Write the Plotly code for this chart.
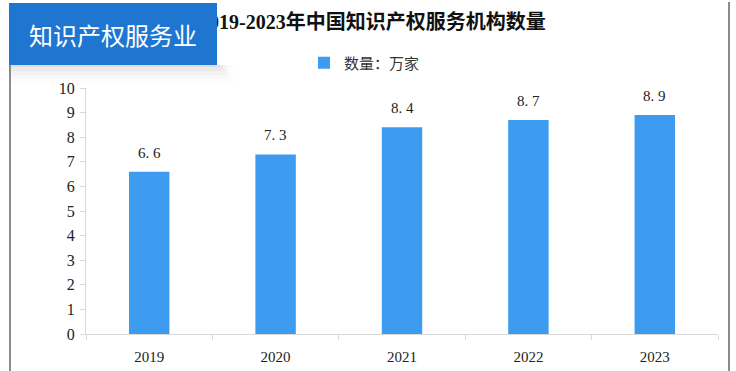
import plotly.graph_objects as go

years = ["2019", "2020", "2021", "2022", "2023"]
values = [6.6, 7.3, 8.4, 8.7, 8.9]
value_labels = ["6. 6", "7. 3", "8. 4", "8. 7", "8. 9"]
y_ticks = list(range(0, 11))
title_text = "2019-2023年中国知识产权服务机构数量"
legend_name = "数量：万家"
badge_text = "知识产权服务业"

BAR = "#3d9cf0"
SERIF = "Liberation Serif, DejaVu Serif, Noto Sans CJK SC, serif"
CJK = "Noto Sans CJK SC, sans-serif"

fig = go.Figure()
fig.add_trace(go.Bar(
    x=years, y=values, name=legend_name,
    marker=dict(color=BAR, line=dict(width=0)),
))

# value labels above bars (category index positions)
for i, (v, lab) in enumerate(zip(values, value_labels)):
    fig.add_annotation(x=i, y=v, xref="x", yref="y", text=lab, showarrow=False,
                       yanchor="bottom", yshift=9,
                       font=dict(family=SERIF, size=15, color="#222"))


def px_x(px):
    return (px - 86) / 632


def px_y(py):
    return (334 - py) / 246


fig.update_layout(
    width=736, height=371,
    margin=dict(l=86, r=18, t=88, b=37, autoexpand=False),
    paper_bgcolor="white", plot_bgcolor="white",
    bargap=0.68,
    showlegend=True,
    legend=dict(orientation="h", x=px_x(304), xanchor="left", y=px_y(63), yanchor="middle",
                font=dict(family=CJK, size=15, color="#333"),
                itemwidth=30, bgcolor="rgba(0,0,0,0)"),
    xaxis=dict(
        type="category", range=[-0.5, len(years) - 0.5], autorange=False,
        automargin=False,
        showline=True, linecolor="#d9d9d9", linewidth=1,
        ticks="outside", ticklen=5, tickcolor="#d9d9d9", tickson="boundaries",
        showgrid=False, tickfont=dict(family=SERIF, size=15, color="#222"),
        ticklabelstandoff=9,
    ),
    yaxis=dict(
        range=[0, 10], autorange=False, automargin=False, tickvals=y_ticks,
        showline=True, linecolor="#d9d9d9",
        linewidth=1, ticks="outside", ticklen=5, tickcolor="#d9d9d9",
        showgrid=False, zeroline=False, ticklabelstandoff=2,
        tickfont=dict(family=SERIF, size=16, color="#222"),
    ),
)

# title
fig.add_annotation(
    text="<b>" + title_text + "</b>", xref="paper", yref="paper",
    x=px_x(372), y=px_y(22), xanchor="center", yanchor="middle",
    showarrow=False, font=dict(family=SERIF, size=20, color="#111"),
)

shapes = []
# left border
shapes.append(dict(type="line", xref="paper", yref="paper",
                   x0=px_x(10), x1=px_x(10), y0=px_y(60), y1=px_y(372),
                   line=dict(color="#8c8c8c", width=2)))
# right border
shapes.append(dict(type="line", xref="paper", yref="paper",
                   x0=px_x(729), x1=px_x(729), y0=px_y(2), y1=px_y(372),
                   line=dict(color="#8c8c8c", width=2)))
# shadow below badge
for i, a in enumerate([0.045, 0.032, 0.022, 0.014, 0.008, 0.004]):
    shapes.append(dict(type="rect", xref="paper", yref="paper",
                       x0=px_x(11), x1=px_x(220 + i * 3),
                       y0=px_y(65), y1=px_y(67 + i * 4),
                       fillcolor="rgba(0,0,0,%g)" % a, line=dict(width=0), layer="above"))
fig.update_layout(shapes=shapes)

# badge (annotation with background so it sits above the title)
fig.add_annotation(
    text=badge_text, xref="paper", yref="paper",
    x=px_x(9), y=px_y(3), xanchor="left", yanchor="top",
    width=208, height=62, bgcolor="#1e76d1", borderpad=0, borderwidth=0,
    align="center", valign="middle",
    showarrow=False, font=dict(family=CJK, size=24, color="white"),
)

fig.write_html("out.html", post_script="document.body.style.margin='0';",
               config={"displayModeBar": False})
